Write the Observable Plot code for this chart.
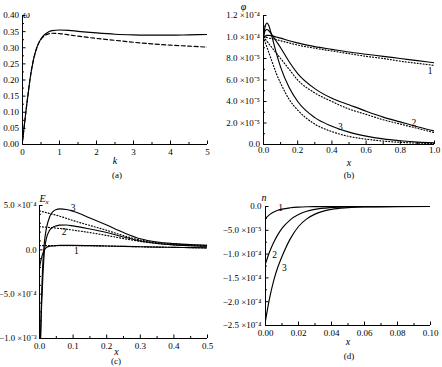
<!DOCTYPE html>
<html>
<head>
<meta charset="utf-8">
<script src="https://cdn.jsdelivr.net/npm/d3@7"></script>
<script src="https://cdn.jsdelivr.net/npm/@observablehq/plot@0.6"></script>
<style>
  body { margin: 0; background: #fff; }
  #fig { position: relative; width: 442px; height: 367px; overflow: hidden; font-family: "Liberation Serif", "Times New Roman", serif; color: #000; }
  .cap { position: absolute; width: 40px; text-align: center; font-size: 9px; line-height: 12px; }
</style>
</head>
<body>
<div id="fig"></div>
<script>
// ---------- (a) dispersion ω(k) ----------
const aK = [0, 0.05, 0.1, 0.15, 0.2, 0.3, 0.4, 0.5, 0.6, 0.7, 0.8, 1.0, 1.25, 1.5, 2.0, 2.5, 3.0, 3.5, 4.0, 4.5, 5.0];
const aOmegaSolid  = [0.01, 0.06, 0.11, 0.155, 0.20, 0.265, 0.305, 0.328, 0.341, 0.349, 0.353, 0.355, 0.354, 0.351, 0.346, 0.342, 0.340, 0.339, 0.339, 0.340, 0.341];
const aOmegaDashed = [0.01, 0.06, 0.11, 0.155, 0.20, 0.265, 0.304, 0.326, 0.337, 0.343, 0.345, 0.344, 0.340, 0.336, 0.329, 0.323, 0.317, 0.312, 0.308, 0.305, 0.302];
const aXTicks = [0, 1, 2, 3, 4, 5];
const aXTickLabels = ["0", "1", "2", "3", "4", "5"];
const aXMinor = [0.5, 1.5, 2.5, 3.5, 4.5];
const aYTicks = [0, 0.05, 0.10, 0.15, 0.20, 0.25, 0.30, 0.35, 0.40];
const aYTickLabels = ["0.00", "0.05", "0.10", "0.15", "0.20", "0.25", "0.30", "0.35", "0.40"];
const aYMinor = [0.025, 0.075, 0.125, 0.175, 0.225, 0.275, 0.325, 0.375];

// ---------- (b) potential φ(x), in units of 10⁻⁴ ----------
const bX = [0, 0.01, 0.02, 0.03, 0.05, 0.075, 0.1, 0.15, 0.2, 0.3, 0.4, 0.5, 0.6, 0.7, 0.8, 0.9, 1.0];
const bPhi1 = [1.0, 1.01, 1.015, 1.015, 1.01, 1.0, 0.99, 0.965, 0.945, 0.91, 0.885, 0.86, 0.84, 0.82, 0.80, 0.78, 0.76];
const bPhi1Dot = [1.0, 0.998, 0.995, 0.99, 0.985, 0.975, 0.965, 0.945, 0.925, 0.895, 0.87, 0.845, 0.82, 0.80, 0.775, 0.755, 0.735];
const bPhi2 = [1.0, 1.06, 1.07, 1.06, 1.02, 0.96, 0.90, 0.77, 0.66, 0.52, 0.43, 0.37, 0.31, 0.255, 0.21, 0.165, 0.125];
const bPhi2Dot = [1.0, 0.98, 0.96, 0.94, 0.90, 0.85, 0.80, 0.70, 0.60, 0.48, 0.40, 0.33, 0.28, 0.23, 0.19, 0.15, 0.11];
const bPhi3 = [1.0, 1.10, 1.13, 1.11, 1.0, 0.85, 0.72, 0.53, 0.40, 0.25, 0.17, 0.115, 0.078, 0.052, 0.035, 0.022, 0.015];
const bPhi3Dot = [1.0, 0.95, 0.905, 0.86, 0.77, 0.66, 0.57, 0.42, 0.32, 0.19, 0.12, 0.075, 0.05, 0.032, 0.02, 0.013, 0.008];
const bCurveNames = ["1", "2", "3"];
const bNameX = [0.975, 0.88, 0.45];
const bNameY = [0.68, 0.20, 0.165];
const bXTicks = [0, 0.2, 0.4, 0.6, 0.8, 1.0];
const bXTickLabels = ["0.0", "0.2", "0.4", "0.6", "0.8", "1.0"];
const bXMinor = [0.1, 0.3, 0.5, 0.7, 0.9];
const bYTicks = [0, 0.2, 0.4, 0.6, 0.8, 1.0, 1.2];
const bYTickLabels = ["0.0", "2.0 ×10⁻⁵", "4.0 ×10⁻⁵", "6.0 ×10⁻⁵", "8.0 ×10⁻⁵", "1.0 ×10⁻⁴", "1.2 ×10⁻⁴"];
const bYMinor = [0.1, 0.3, 0.5, 0.7, 0.9, 1.1];

// ---------- (c) field E_x(x), in units of 10⁻⁴ ----------
const cX = [0, 0.003, 0.006, 0.01, 0.015, 0.02, 0.03, 0.04, 0.05, 0.06, 0.08, 0.1, 0.15, 0.2, 0.25, 0.3, 0.35, 0.4, 0.45, 0.5];
const cE1 = [-2.0, -1.4, -0.9, -0.4, 0.0, 0.25, 0.4, 0.45, 0.48, 0.5, 0.5, 0.5, 0.47, 0.43, 0.39, 0.35, 0.31, 0.28, 0.25, 0.22];
const cE1Dot = [0.48, 0.48, 0.48, 0.48, 0.48, 0.48, 0.48, 0.48, 0.48, 0.48, 0.48, 0.48, 0.46, 0.43, 0.39, 0.35, 0.31, 0.28, 0.25, 0.22];
const cE2 = [-13, -10, -6.5, -3.0, 0.0, 1.2, 2.2, 2.55, 2.7, 2.78, 2.8, 2.7, 2.35, 1.95, 1.45, 1.0, 0.72, 0.56, 0.46, 0.40];
const cE2Dot = [2.6, 2.6, 2.59, 2.58, 2.57, 2.55, 2.52, 2.49, 2.45, 2.41, 2.33, 2.22, 1.95, 1.62, 1.27, 0.95, 0.72, 0.56, 0.46, 0.40];
const cE3 = [-14, -10, -5.5, -1.5, 1.0, 2.3, 3.7, 4.3, 4.55, 4.62, 4.55, 4.35, 3.6, 2.8, 1.95, 1.25, 0.88, 0.70, 0.58, 0.50];
const cE3Dot = [4.4, 4.37, 4.34, 4.3, 4.25, 4.2, 4.1, 4.0, 3.9, 3.8, 3.55, 3.3, 2.75, 2.2, 1.6, 1.1, 0.82, 0.66, 0.56, 0.50];
const cCurveNames = ["1", "2", "3"];
const cNameX = [0.11, 0.073, 0.1];
const cNameY = [-0.12, 1.97, 4.75];
const cXTicks = [0, 0.1, 0.2, 0.3, 0.4, 0.5];
const cXTickLabels = ["0.0", "0.1", "0.2", "0.3", "0.4", "0.5"];
const cXMinor = [0.05, 0.15, 0.25, 0.35, 0.45];
const cYTicks = [-10, -5, 0, 5];
const cYTickLabels = ["−1.0 ×10⁻³", "−5.0 ×10⁻⁴", "0.0", "5.0 ×10⁻⁴"];
const cYMinor = [-9, -8, -7, -6, -4, -3, -2, -1, 1, 2, 3, 4];

// ---------- (d) density n(x), in units of 10⁻⁴ ----------
const dX = [0, 0.0025, 0.005, 0.0075, 0.01, 0.015, 0.02, 0.025, 0.03, 0.04, 0.05, 0.06, 0.08, 0.1];
const dN1 = [-0.25, -0.17, -0.115, -0.08, -0.055, -0.027, -0.013, -0.006, -0.003, -0.001, 0, 0, 0, 0];
const dN2 = [-1.2, -0.95, -0.75, -0.59, -0.46, -0.28, -0.17, -0.10, -0.06, -0.022, -0.008, -0.003, 0, 0];
const dN3 = [-2.4, -1.92, -1.55, -1.27, -1.05, -0.68, -0.42, -0.26, -0.16, -0.06, -0.025, -0.01, -0.002, 0];
const dCurveNames = ["1", "2", "3"];
const dNameX = [0.0092, 0.0055, 0.0115];
const dNameY = [-0.03, -1.02, -1.3];
const dXTicks = [0, 0.02, 0.04, 0.06, 0.08, 0.10];
const dXTickLabels = ["0.00", "0.02", "0.04", "0.06", "0.08", "0.10"];
const dXMinor = [0.01, 0.03, 0.05, 0.07, 0.09];
const dYTicks = [-2.5, -2.0, -1.5, -1.0, -0.5, 0];
const dYTickLabels = ["−2.5 ×10⁻⁴", "−2.0 ×10⁻⁴", "−1.5 ×10⁻⁴", "−1.0 ×10⁻⁴", "−5.0 ×10⁻⁵", "0.0"];
const dYMinor = [-2.25, -1.75, -1.25, -0.75, -0.25];

const DASH = "4,2.5";
const DOT = "1,2";

const fig = document.getElementById("fig");

function labelMap(values, labels) {
  return new Map(values.map((v, i) => [v, labels[i]]));
}

function drawPanel(p) {
  const xFmt = labelMap(p.xTicks, p.xTickLabels);
  const yFmt = labelMap(p.yTicks, p.yTickLabels);
  const marks = [
    Plot.ruleX([p.xDomain[0]], {stroke: "#000", strokeWidth: 1}),
    Plot.ruleY([p.yDomain[0]], {stroke: "#000", strokeWidth: 1}),
    Plot.axisX(p.xMinor, {tickSize: -2, tickFormat: () => "", label: null, stroke: "#000"}),
    Plot.axisY(p.yMinor, {tickSize: -2, tickFormat: () => "", label: null, stroke: "#000"}),
    Plot.axisX(p.xTicks, {tickSize: -3.5, tickPadding: p.xPad, tickFormat: d => xFmt.get(d), label: null, fontSize: 9, fill: "#000", stroke: "#000"}),
    Plot.axisY(p.yTicks, {tickSize: -3.5, tickPadding: p.yPad || 7, tickFormat: d => yFmt.get(d), label: null, fontSize: p.yFont || 9, fill: "#000", stroke: "#000"}),
    ...p.series.map(s => Plot.line(s.y, {x: p.x, y: s.y, stroke: "#000", strokeWidth: s.w || 1.15, strokeDasharray: s.dash, curve: "monotone-x", clip: true})),
    Plot.text([p.xTitle], {frameAnchor: "bottom", dx: p.xTitleDx || 0, dy: p.xTitleDy, fontStyle: "italic", fontSize: 10, lineAnchor: "middle", fill: "#000"}),
    ...p.yTitle.map(t => Plot.text([t.text], {frameAnchor: "top-left", dx: t.dx, dy: t.dy, fontStyle: "italic", fontSize: t.size || 10, lineAnchor: "middle", textAnchor: "middle", fill: "#000"}))
  ];
  if (p.names) {
    marks.push(Plot.text(p.names, {x: p.nameX, y: p.nameY, text: d => d, fontSize: 9.5, lineAnchor: "middle", fill: "#000"}));
  }
  const svg = Plot.plot({
    width: p.width,
    height: p.height,
    marginLeft: p.margin[3],
    marginTop: p.margin[0],
    marginRight: p.margin[1],
    marginBottom: p.margin[2],
    style: {fontFamily: "'Liberation Serif', 'Times New Roman', serif", fontSize: "9px", background: "transparent", color: "#000"},
    x: {domain: p.xDomain},
    y: {domain: p.yDomain},
    marks
  });
  svg.style.position = "absolute";
  svg.style.left = p.left + "px";
  svg.style.top = p.top + "px";
  fig.append(svg);

  const cap = document.createElement("div");
  cap.className = "cap";
  cap.textContent = p.caption;
  cap.style.left = (p.capX - 20) + "px";
  cap.style.top = (p.capY - 6) + "px";
  fig.append(cap);
}

drawPanel({
  left: 0, top: 0, width: 221, height: 167, margin: [15, 14, 23, 22],
  xDomain: [0, 5], yDomain: [0, 0.4],
  xTicks: aXTicks, xTickLabels: aXTickLabels, xMinor: aXMinor, xPad: 7.5,
  yTicks: aYTicks, yTickLabels: aYTickLabels, yMinor: aYMinor,
  x: aK,
  series: [{y: aOmegaSolid}, {y: aOmegaDashed, dash: DASH}],
  xTitle: "k", xTitleDy: 16.5,
  yTitle: [{text: "ω", dx: 4, dy: -1}],
  caption: "(a)", capX: 117, capY: 175
});

drawPanel({
  left: 221, top: 0, width: 221, height: 167, margin: [15, 8, 23, 42],
  xDomain: [0, 1], yDomain: [0, 1.2],
  xTicks: bXTicks, xTickLabels: bXTickLabels, xMinor: bXMinor, xPad: 5.5,
  yTicks: bYTicks, yTickLabels: bYTickLabels, yMinor: bYMinor,
  x: bX,
  series: [{y: bPhi1}, {y: bPhi1Dot, dash: DOT}, {y: bPhi2}, {y: bPhi2Dot, dash: DOT}, {y: bPhi3}, {y: bPhi3Dot, dash: DOT}],
  names: bCurveNames, nameX: bNameX, nameY: bNameY,
  xTitle: "x", xTitleDy: 18,
  yTitle: [{text: "φ", dx: -20, dy: -9}],
  caption: "(b)", capX: 349, capY: 175
});

drawPanel({
  left: 0, top: 183, width: 221, height: 177, margin: [22, 14, 22, 39],
  xDomain: [0, 0.5], yDomain: [-10, 5],
  xTicks: cXTicks, xTickLabels: cXTickLabels, xMinor: cXMinor, xPad: 7.5,
  yTicks: cYTicks, yTickLabels: cYTickLabels, yMinor: cYMinor, yPad: 6.5, yFont: 8.7,
  x: cX,
  series: [{y: cE1}, {y: cE1Dot, dash: DOT}, {y: cE2}, {y: cE2Dot, dash: DOT}, {y: cE3}, {y: cE3Dot, dash: DOT}],
  names: cCurveNames, nameX: cNameX, nameY: cNameY,
  xTitle: "x", xTitleDx: -7, xTitleDy: 13,
  yTitle: [{text: "E", dx: 3, dy: -6.5}, {text: "x", dx: 7.5, dy: -3.5, size: 7}],
  caption: "(c)", capX: 116, capY: 361
});

drawPanel({
  left: 221, top: 183, width: 221, height: 170, margin: [23, 12, 28, 44],
  xDomain: [0, 0.1], yDomain: [-2.5, 0],
  xTicks: dXTicks, xTickLabels: dXTickLabels, xMinor: dXMinor, xPad: 7.5,
  yTicks: dYTicks, yTickLabels: dYTickLabels, yMinor: dYMinor, yPad: 7.5,
  x: dX,
  series: [{y: dN1}, {y: dN2}, {y: dN3}],
  names: dCurveNames, nameX: dNameX, nameY: dNameY,
  xTitle: "x", xTitleDy: 16.5,
  yTitle: [{text: "n", dx: -1.5, dy: -8.5}],
  caption: "(d)", capX: 349, capY: 356
});
</script>
</body>
</html>
